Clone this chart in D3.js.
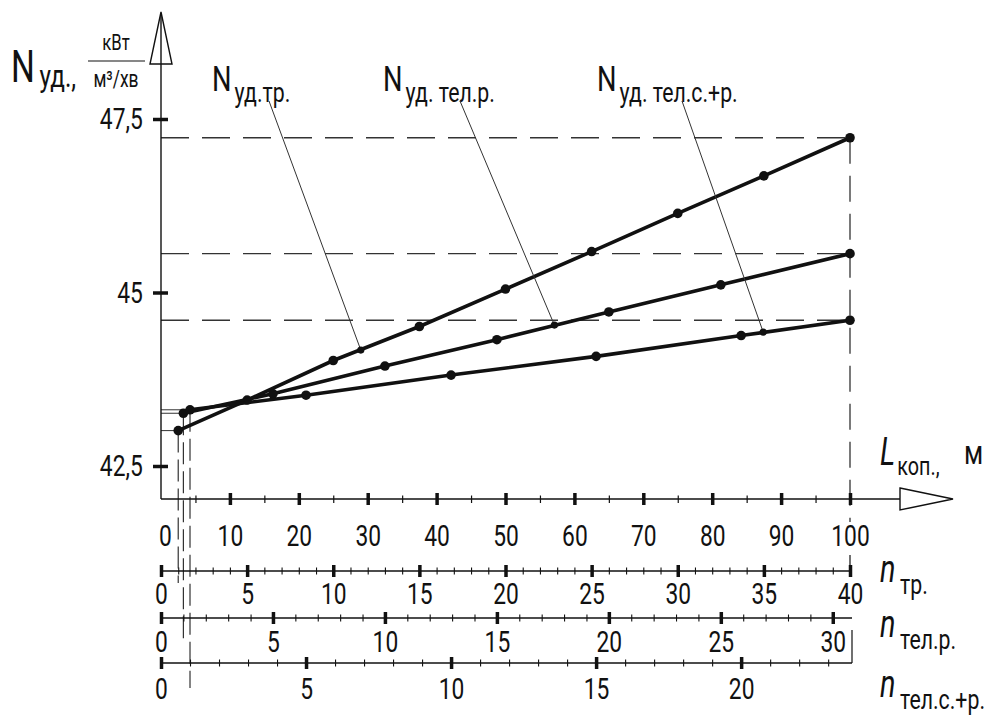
<!DOCTYPE html>
<html>
<head>
<meta charset="utf-8">
<script src="https://cdn.jsdelivr.net/npm/d3@7"></script>
<style>
  body { margin: 0; background: #fff; }
  svg text { font-family: Roboto, "DejaVu Sans", sans-serif; font-weight: 400; fill: #111; }
</style>
</head>
<body>
<svg id="chart" width="1002" height="716"></svg>
<script>
// довжина кар'єру L, м  /  питома потужність N, кВт/(м3/хв)
const lenTr = [2.5, 12.5, 25, 37.5, 50, 62.5, 75, 87.5, 100];
const nudTr = [43.01, 43.45, 44.02, 44.51, 45.05, 45.59, 46.14, 46.68, 47.23];
const lenTelR = [3.25, 16.25, 32.5, 48.75, 65, 81.25, 100];
const nudTelR = [43.26, 43.54, 43.94, 44.32, 44.72, 45.11, 45.56];
const lenTelSR = [4.21, 21.05, 42.1, 63.15, 84.2, 100];
const nudTelSR = [43.31, 43.52, 43.81, 44.08, 44.38, 44.60];
// точки, куди йдуть виноски
const calloutLen = [29, 57.1, 87.4];
const calloutNud = [44.17, 44.53, 44.43];

const yTicks = [42.5, 45, 47.5];
const lenTicks = [0, 10, 20, 30, 40, 50, 60, 70, 80, 90, 100];
const nTrTicks = [0, 5, 10, 15, 20, 25, 30, 35, 40];
const nTelRTicks = [0, 5, 10, 15, 20, 25, 30];
const nTelSRTicks = [0, 5, 10, 15, 20];

const svg = d3.select("#chart");
const ink = "#111";
const SX = 0.76; // вузький шрифт креслення
const comma = v => String(v).replace(".", ",");

// текст, стиснутий по горизонталі
function label(px, py, size, str) {
    return svg.append("text")
        .attr("transform", `translate(${px},${py}) scale(${SX},1)`)
        .attr("font-size", size).text(str);
}

const x = d3.scaleLinear().domain([0, 100]).range([161, 850]);
const y = d3.scaleLinear().domain([42.5, 47.5]).range([466, 119]);
const nTr = d3.scaleLinear().domain([0, 40]).range([x(0), x(100)]);
const nTelR = d3.scaleLinear().domain([0, 30]).range([x(0), x(97.5)]);
const nTelSR = d3.scaleLinear().domain([0, 20]).range([x(0), x(84.2)]);

const axisY = 499;
const rows = [
    { scale: nTr, y: 571, ticks: nTrTicks, minor: d3.range(1, 40), end: x(100), lab: 12 },
    { scale: nTelR, y: 618, ticks: nTelRTicks, minor: d3.range(1, 31), end: x(100) + 2, lab: 13 },
    { scale: nTelSR, y: 663, ticks: nTelSRTicks, minor: d3.range(1, 24), end: x(100) + 2, lab: 15 }
];

// --- пунктир від кінцевих точок ---
const ends = [nudTr[nudTr.length - 1], nudTelR[nudTelR.length - 1], nudTelSR[nudTelSR.length - 1]];
ends.forEach(v => {
    svg.append("line")
        .attr("x1", x(0)).attr("x2", x(100))
        .attr("y1", y(v)).attr("y2", y(v))
        .attr("stroke", "#333").attr("stroke-width", 1.3)
        .attr("stroke-dasharray", "28,13");
});
svg.append("line")
    .attr("x1", x(100)).attr("x2", x(100))
    .attr("y1", y(ends[0])).attr("y2", 522)
    .attr("stroke", "#333").attr("stroke-width", 1.3)
    .attr("stroke-dasharray", "26,12");

// --- тонкі лінії від перших точок ---
const firsts = [
    { L: lenTr[0], N: nudTr[0], to: rows[0].y + 12 },
    { L: lenTelR[0], N: nudTelR[0], to: rows[1].y + 24 },
    { L: lenTelSR[0], N: nudTelSR[0], to: rows[2].y + 25 }
];
firsts.forEach(f => {
    svg.append("line")
        .attr("x1", x(0)).attr("x2", x(f.L))
        .attr("y1", y(f.N)).attr("y2", y(f.N))
        .attr("stroke", "#333").attr("stroke-width", 1);
    svg.append("line")
        .attr("x1", x(f.L)).attr("x2", x(f.L))
        .attr("y1", y(f.N)).attr("y2", f.to)
        .attr("stroke", "#333").attr("stroke-width", 1.2)
        .attr("stroke-dasharray", "22,7");
});

// --- вісь Y ---
svg.append("line")
    .attr("x1", x(0)).attr("x2", x(0))
    .attr("y1", axisY).attr("y2", 14)
    .attr("stroke", ink).attr("stroke-width", 1.4);
svg.append("path")
    .attr("d", `M${x(0)},12 L${x(0) - 11},64 L${x(0) + 11},64 Z`)
    .attr("fill", "#fff").attr("stroke", ink).attr("stroke-width", 1.4);
svg.append("line")
    .attr("x1", x(0)).attr("x2", x(0)).attr("y1", 14).attr("y2", 64)
    .attr("stroke", ink).attr("stroke-width", 1.4);

const gy = svg.append("g").attr("transform", `translate(${x(0)},0)`)
    .call(d3.axisLeft(y).tickValues(yTicks).tickSize(0).tickPadding(24).tickFormat(comma));
gy.select(".domain").remove();
gy.selectAll(".tick line").attr("x1", -8).attr("x2", 7).attr("stroke", ink).attr("stroke-width", 3.5);
gy.selectAll(".tick text").attr("font-size", 30).attr("fill", ink).attr("transform", `scale(${SX},1)`);

// --- вісь L ---
svg.append("line")
    .attr("x1", x(0)).attr("x2", 900)
    .attr("y1", axisY).attr("y2", axisY)
    .attr("stroke", ink).attr("stroke-width", 1.4);
svg.append("path")
    .attr("d", `M900,${axisY - 11} L953,${axisY} L900,${axisY + 11} Z`)
    .attr("fill", "#fff").attr("stroke", ink).attr("stroke-width", 1.4);

const gx = svg.append("g").attr("transform", `translate(0,${axisY})`);
gx.append("g")
    .call(d3.axisBottom(x).tickValues(d3.range(5, 100, 10)).tickSize(0).tickFormat(""))
    .call(g => g.select(".domain").remove())
    .call(g => g.selectAll(".tick line").attr("y1", -3.5).attr("y2", 4).attr("stroke", ink).attr("stroke-width", 1.2));
gx.append("g")
    .call(d3.axisBottom(x).tickValues(lenTicks).tickSize(0).tickPadding(26))
    .call(g => g.select(".domain").remove())
    .call(g => g.selectAll(".tick line").attr("y1", -6).attr("y2", 6).attr("stroke", ink)
        .attr("stroke-width", d => d === 0 ? 0 : 3.5))
    .call(g => g.selectAll(".tick text").attr("font-size", 30).attr("fill", ink)
        .attr("transform", d => `translate(${d === 0 ? 4 : 0},0) scale(${SX},1)`));

// --- шкали n ---
rows.forEach(r => {
    const g = svg.append("g").attr("transform", `translate(0,${r.y})`);
    g.append("line").attr("x1", x(0)).attr("x2", r.end)
        .attr("stroke", ink).attr("stroke-width", 1.4);
    g.append("g")
        .call(d3.axisBottom(r.scale).tickValues(r.minor.filter(v => v % 5 !== 0)).tickSize(0).tickFormat(""))
        .call(s => s.select(".domain").remove())
        .call(s => s.selectAll(".tick line").attr("y1", -3.5).attr("y2", 3.5).attr("stroke", ink).attr("stroke-width", 1.1));
    g.append("g")
        .call(d3.axisBottom(r.scale).tickValues(r.ticks).tickSize(0).tickPadding(r.lab))
        .call(s => s.select(".domain").remove())
        .call(s => s.selectAll(".tick line").attr("y1", -6).attr("y2", 6).attr("stroke", ink).attr("stroke-width", 3.5))
        .call(s => s.selectAll(".tick text").attr("font-size", 30).attr("fill", ink)
            .attr("transform", `scale(${SX},1)`));
});
// кінець шкали n_тр та скоба для нижніх шкал
svg.append("line").attr("x1", x(100)).attr("x2", x(100)).attr("y1", 555).attr("y2", rows[0].y)
    .attr("stroke", ink).attr("stroke-width", 1.2);
svg.append("line").attr("x1", x(100) + 2).attr("x2", x(100) + 2).attr("y1", rows[1].y + 12).attr("y2", rows[2].y)
    .attr("stroke", ink).attr("stroke-width", 1.2);

// --- криві ---
const series = [
    { L: lenTr, N: nudTr },
    { L: lenTelR, N: nudTelR },
    { L: lenTelSR, N: nudTelSR }
];
const line = d3.line().x(d => x(d[0])).y(d => y(d[1]));
series.forEach(s => {
    const pts = s.L.map((l, i) => [l, s.N[i]]);
    svg.append("path").datum(pts)
        .attr("fill", "none").attr("stroke", ink).attr("stroke-width", 3.6)
        .attr("stroke-linecap", "round").attr("d", line);
    svg.selectAll(null).data(pts).enter().append("circle")
        .attr("cx", d => x(d[0])).attr("cy", d => y(d[1])).attr("r", 4.8).attr("fill", ink);
});

// --- виноски ---
const callouts = [
    { x: 212, sub: "уд.тр.", lead: 57 },
    { x: 383, sub: "уд. тел.р.", lead: 77 },
    { x: 597, sub: "уд. тел.с.+р.", lead: 85 }
];
callouts.forEach((c, i) => {
    const t = label(c.x, 91, 36, "N");
    t.append("tspan").attr("dx", 4).attr("dy", 11).attr("font-size", 28).text(c.sub);
    svg.append("line")
        .attr("x1", c.x + c.lead).attr("y1", 101)
        .attr("x2", x(calloutLen[i])).attr("y2", y(calloutNud[i]))
        .attr("stroke", "#333").attr("stroke-width", 1);
    svg.append("circle")
        .attr("cx", x(calloutLen[i])).attr("cy", y(calloutNud[i])).attr("r", 3.6).attr("fill", ink);
});

// --- підписи осей ---
const yt = label(11, 82, 44, "N");
yt.append("tspan").attr("dx", 6).attr("dy", 5).attr("font-size", 32).text("уд.,");
label(116, 50, 22, "кВт").attr("text-anchor", "middle");
svg.append("line").attr("x1", 88).attr("x2", 145).attr("y1", 61).attr("y2", 61)
    .attr("stroke", ink).attr("stroke-width", 1.2);
label(116, 87, 23, "м³/хв").attr("text-anchor", "middle");

const lt = label(880, 465, 38, "L").attr("font-style", "italic");
lt.append("tspan").attr("dx", 3).attr("dy", 10).attr("font-size", 26).attr("font-style", "normal").text("коп.,");
label(964, 464, 34, "м");

const nLabels = [
    { sub: "тр.", base: 582 },
    { sub: "тел.р.", base: 637 },
    { sub: "тел.с.+р.", base: 697 }
];
nLabels.forEach(n => {
    const t = label(880, n.base, 38, "n").attr("font-style", "italic");
    t.append("tspan").attr("dx", 6).attr("dy", 12).attr("font-size", 28).attr("font-style", "normal").text(n.sub);
});
</script>
</body>
</html>
